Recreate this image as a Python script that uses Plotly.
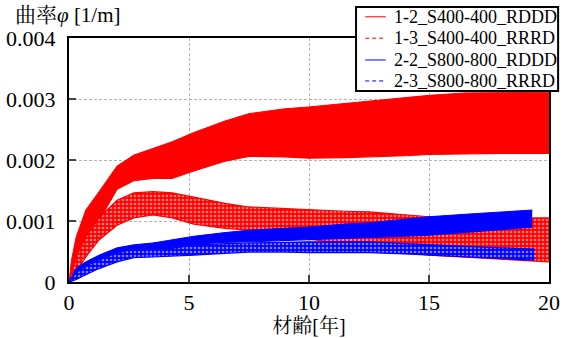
import plotly.graph_objects as go

# ---- data (curvature in 1/m) ----
t_common = [0, 0.1, 0.3, 0.7, 1.25, 2.0, 2.7, 3.5, 4.3, 5.2, 6.5, 7.5, 9, 10, 11.5, 12.5, 14, 15, 16.5, 18]

t_12 = t_common + [20]
up_12 = [0, 0.35, 0.74, 1.18, 1.48, 1.90, 2.08, 2.19, 2.30, 2.45, 2.64, 2.76, 2.84, 2.87, 2.93, 2.96, 3.02, 3.06, 3.10, 3.10, 3.11]
lo_12 = [0, 0.05, 0.20, 0.62, 1.00, 1.52, 1.66, 1.70, 1.70, 1.82, 1.98, 2.06, 2.05, 2.03, 2.04, 2.05, 2.07, 2.09, 2.10, 2.11, 2.11]

t_13 = t_common + [20]
up_13 = [0, 0.15, 0.41, 0.74, 1.05, 1.34, 1.46, 1.48, 1.46, 1.39, 1.29, 1.23, 1.20, 1.18, 1.16, 1.15, 1.10, 1.07, 1.05, 1.05, 1.05]
lo_13 = [0, 0.03, 0.15, 0.41, 0.69, 0.93, 1.05, 1.10, 1.05, 0.95, 0.88, 0.85, 0.76, 0.70, 0.62, 0.57, 0.48, 0.44, 0.41, 0.38, 0.33]

t_22 = t_common + [19.3]
up_22 = [0, 0.08, 0.23, 0.33, 0.44, 0.56, 0.61, 0.64, 0.69, 0.75, 0.81, 0.85, 0.88, 0.90, 0.95, 0.97, 1.03, 1.07, 1.11, 1.15, 1.18]
lo_22 = [0, 0.02, 0.05, 0.16, 0.28, 0.39, 0.48, 0.52, 0.56, 0.62, 0.65, 0.66, 0.68, 0.69, 0.71, 0.72, 0.75, 0.77, 0.81, 0.86, 0.90]

t_23 = t_common + [19.4]
up_23 = [0, 0.05, 0.15, 0.26, 0.36, 0.48, 0.54, 0.55, 0.55, 0.61, 0.63, 0.64, 0.65, 0.66, 0.66, 0.66, 0.63, 0.61, 0.59, 0.56, 0.54]
lo_23 = [0, 0.01, 0.04, 0.12, 0.22, 0.33, 0.40, 0.41, 0.42, 0.44, 0.47, 0.49, 0.49, 0.48, 0.48, 0.48, 0.46, 0.44, 0.41, 0.38, 0.36]

names = ["1-2_S400-400_RDDD", "1-3_S400-400_RRRD", "2-2_S800-800_RDDD", "2-3_S800-800_RRRD"]
x_ticks = [0, 5, 10, 15, 20]
y_ticks = [0, 0.001, 0.002, 0.003, 0.004]
y_ticktext = ["0", "0.001", "0.002", "0.003", "0.004"]

RED = "#FF0000"
BLUE = "#0000FF"
SERIF = "Liberation Serif, Times New Roman, Noto Serif CJK JP, Noto Sans CJK JP, serif"

series = [
    (t_12, up_12, lo_12, RED, False),
    (t_13, up_13, lo_13, RED, True),
    (t_22, up_22, lo_22, BLUE, False),
    (t_23, up_23, lo_23, BLUE, True),
]

fig = go.Figure()
for (t, up, lo, col, dashed), name in zip(series, names):
    lo_v = [v / 1000 for v in lo]
    up_v = [v / 1000 for v in up]
    fig.add_trace(go.Scatter(x=t, y=lo_v, mode="lines", line=dict(color=col, width=1.2),
                             showlegend=False, hoverinfo="skip", name=name))
    if dashed:
        fig.add_trace(go.Scatter(x=t, y=up_v, mode="lines", line=dict(color=col, width=1.2),
                                 fill="tonexty", fillcolor=col,
                                 fillpattern=dict(shape=".", fgcolor="white", bgcolor=col,
                                                  size=4, solidity=0.35),
                                 showlegend=False, hoverinfo="skip", name=name))
    else:
        fig.add_trace(go.Scatter(x=t, y=up_v, mode="lines", line=dict(color=col, width=1),
                                 fill="tonexty", fillcolor=col,
                                 showlegend=False, hoverinfo="skip", name=name))

# ---- legend box drawn in paper coordinates ----
leg_x0, leg_x1, leg_y0, leg_y1 = 0.598, 1.019, 0.783, 1.127
row_y = [1.087, 0.999, 0.910, 0.824]
fig.add_shape(type="rect", xref="paper", yref="paper", x0=leg_x0, x1=leg_x1, y0=leg_y0, y1=leg_y1,
              line=dict(color="black", width=2), fillcolor="white", layer="above")
for name, col, dash, ry in zip(names, [RED, RED, BLUE, BLUE], ["solid", "4px,3px", "solid", "4px,3px"], row_y):
    fig.add_shape(type="line", xref="paper", yref="paper", x0=0.617, x1=0.660, y0=ry, y1=ry,
                  line=dict(color=col, width=1, dash=dash), layer="above")
    fig.add_annotation(text=name, xref="paper", yref="paper", x=0.672, y=ry,
                       xanchor="left", yanchor="middle", showarrow=False,
                       font=dict(family=SERIF, size=18, color="black"))

fig.update_layout(
    width=571, height=338,
    margin=dict(l=69, r=22, t=38, b=56, autoexpand=False),
    paper_bgcolor="white", plot_bgcolor="white",
    font=dict(family=SERIF, color="black", size=20),
    showlegend=False,
)
fig.update_xaxes(range=[0, 20], tickvals=x_ticks, ticks="inside", ticklen=7, tickwidth=2,
                 showline=True, linecolor="black", linewidth=2, mirror=True,
                 showgrid=True, gridcolor="#B4B4B4", griddash="3px,2px", gridwidth=1,
                 zeroline=False, tickfont=dict(size=22),
                 title=dict(text="材齢[年]", font=dict(size=20), standoff=0))
fig.update_yaxes(range=[0, 0.004], tickvals=y_ticks, ticktext=y_ticktext, ticks="inside",
                 ticklen=7, tickwidth=2, ticklabelstandoff=7,
                 showline=True, linecolor="black", linewidth=2, mirror=True,
                 showgrid=True, gridcolor="#B4B4B4", griddash="3px,2px", gridwidth=1,
                 zeroline=False, tickfont=dict(size=22))
fig.add_annotation(text="曲率<i>φ</i> [1/m]", xref="paper", yref="paper", x=-0.117, y=1.094,
                   xanchor="left", yanchor="middle", showarrow=False,
                   font=dict(family=SERIF, size=21))

fig.write_html("out.html", config={"displayModeBar": False},
               post_script="document.body.style.margin='0';document.body.style.overflow='hidden';")
